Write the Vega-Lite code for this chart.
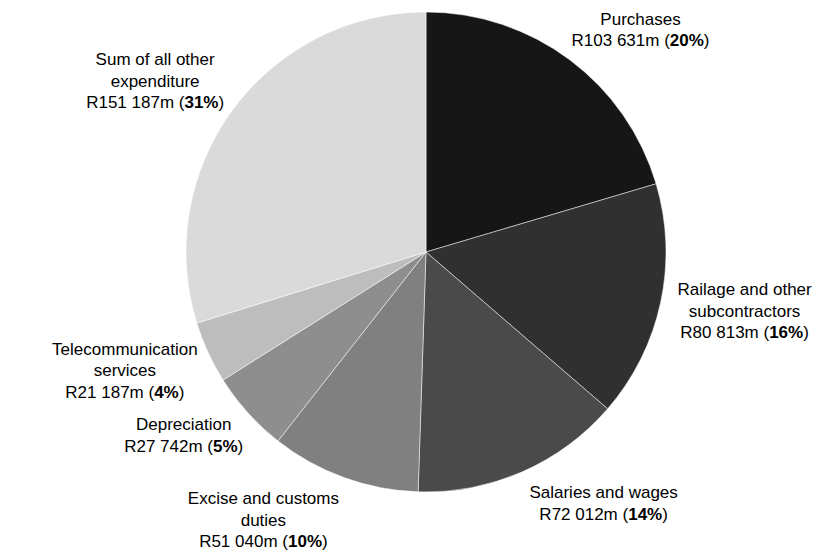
{
  "$schema": "https://vega.github.io/schema/vega-lite/v6.json",
  "width": 792,
  "height": 504,
  "autosize": {"type": "none"},
  "padding": {"left": 30, "top": 0, "right": 0, "bottom": 48},
  "background": "#ffffff",
  "config": {
    "view": {"stroke": null},
    "text": {"font": "Liberation Sans", "fontSize": 17, "color": "#000000"}
  },
  "data": {
    "values": [
      {"idx": 1, "category": "Purchases", "label": "Purchases", "pct": "20%", "value": 103631},
      {"idx": 2, "category": "Railage and other subcontractors", "label": "Railage and other\nsubcontractors", "pct": "16%", "value": 80813},
      {"idx": 3, "category": "Salaries and wages", "label": "Salaries and wages", "pct": "14%", "value": 72012},
      {"idx": 4, "category": "Excise and customs duties", "label": "Excise and customs\nduties", "pct": "10%", "value": 51040},
      {"idx": 5, "category": "Depreciation", "label": "Depreciation", "pct": "5%", "value": 27742},
      {"idx": 6, "category": "Telecommunication services", "label": "Telecommunication\nservices", "pct": "4%", "value": 21187},
      {"idx": 7, "category": "Sum of all other expenditure", "label": "Sum of all other\nexpenditure", "pct": "31%", "value": 151187}
    ]
  },
  "transform": [
    {"joinaggregate": [{"op": "sum", "field": "value", "as": "total"}]},
    {"window": [{"op": "sum", "field": "value", "as": "cum"}], "sort": [{"field": "idx", "order": "ascending"}], "frame": [null, 0]},
    {"calculate": "2 * PI * (datum.cum - datum.value / 2) / datum.total", "as": "mid"},
    {"calculate": "'R' + replace(format(datum.value, ','), ',', ' ') + 'm ('", "as": "amount"},
    {"calculate": "split(datum.label, '\\n')", "as": "lines"},
    {"calculate": "length(datum.lines) + 1", "as": "nl"},
    {"calculate": "max(length(datum.lines[0]), length(datum.lines[1] || ''), length(datum.amount) + length(datum.pct) + 1)", "as": "chars"},
    {"calculate": "(sin(datum.mid) >= 0 ? 1 : -1) * datum.chars * 4.25", "as": "cx"},
    {"calculate": "-cos(datum.mid) * (datum.nl * 10.75 + 2) + (datum.nl - 2) * 10.75", "as": "cy"},
    {"calculate": "17 * (0.556 * length(datum.amount) - 0.336)", "as": "wa"},
    {"calculate": "17 * (0.556 * (length(datum.pct) - 1) + 0.889)", "as": "wp"},
    {"calculate": "(datum.wa - datum.wp - 5.66) / 2", "as": "sh"}
  ],
  "encoding": {
    "theta": {"field": "value", "type": "quantitative", "stack": true},
    "order": {"field": "idx", "type": "quantitative", "sort": "ascending"}
  },
  "layer": [
    {
      "mark": {"type": "arc", "radius": 240, "stroke": "#ffffff", "strokeWidth": 0.5},
      "encoding": {
        "color": {
          "field": "category",
          "type": "nominal",
          "scale": {
            "domain": ["Purchases", "Railage and other subcontractors", "Salaries and wages", "Excise and customs duties", "Depreciation", "Telecommunication services", "Sum of all other expenditure"],
            "range": ["#161616", "#303030", "#4a4a4a", "#808080", "#8e8e8e", "#bdbdbd", "#dadada"]
          },
          "legend": null
        }
      }
    },
    {
      "mark": {"type": "text", "radius": 252, "align": "center", "baseline": "bottom", "lineBreak": "\n", "lineHeight": 21.5,
        "dx": {"expr": "datum.cx"}, "dy": {"expr": "datum.cy - 2.25 - (datum.nl - 2) * 21.5"}},
      "encoding": {"text": {"field": "label", "type": "nominal"}}
    },
    {
      "mark": {"type": "text", "radius": 252, "align": "right", "baseline": "top",
        "dx": {"expr": "datum.cx + datum.sh"}, "dy": {"expr": "datum.cy + 2.25"}},
      "encoding": {"text": {"field": "amount", "type": "nominal"}}
    },
    {
      "mark": {"type": "text", "radius": 252, "align": "left", "baseline": "top", "fontWeight": "bold",
        "dx": {"expr": "datum.cx + datum.sh"}, "dy": {"expr": "datum.cy + 2.25"}},
      "encoding": {"text": {"field": "pct", "type": "nominal"}}
    },
    {
      "mark": {"type": "text", "radius": 252, "align": "left", "baseline": "top",
        "dx": {"expr": "datum.cx + datum.sh + datum.wp"}, "dy": {"expr": "datum.cy + 2.25"}},
      "encoding": {"text": {"value": ")"}}
    }
  ]
}
